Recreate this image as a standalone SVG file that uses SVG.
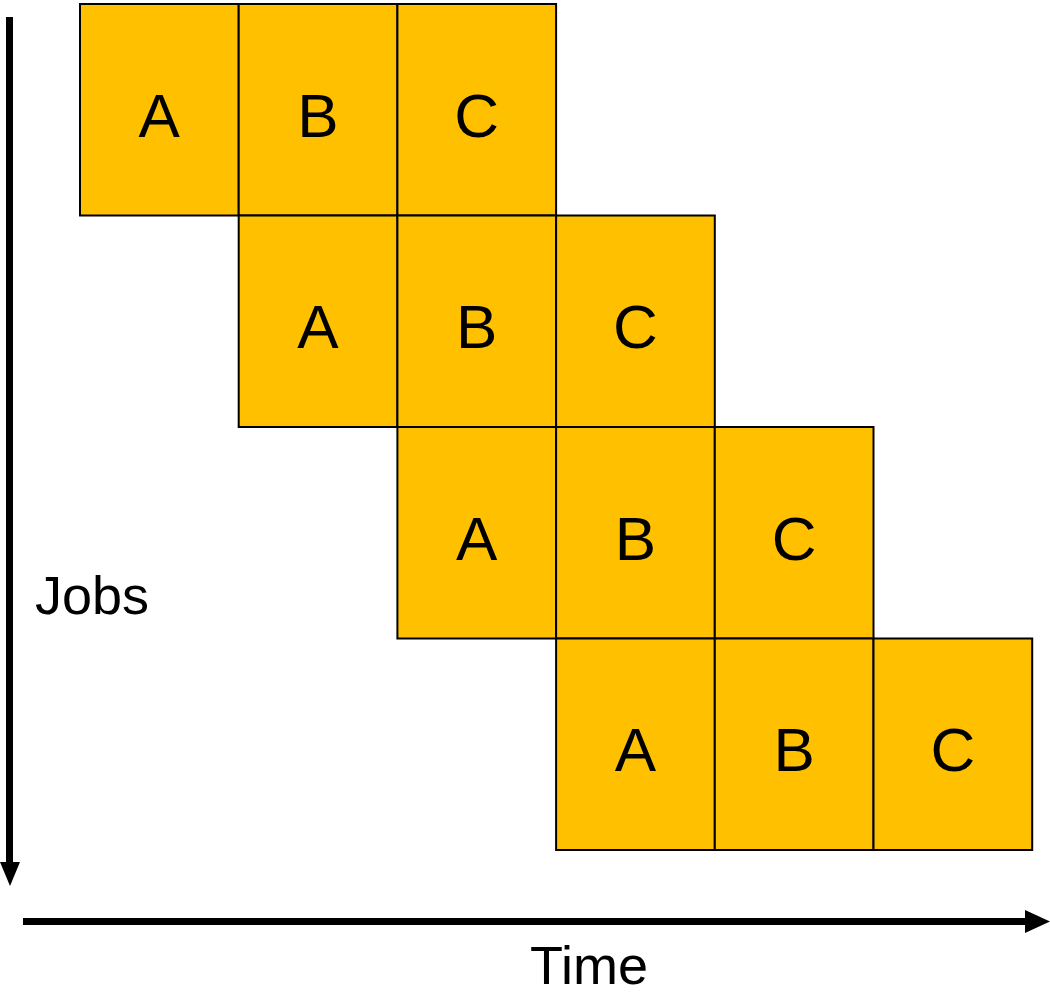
<svg xmlns="http://www.w3.org/2000/svg" width="1050" height="992" viewBox="0 0 1050 992">
<style>
.c{fill:#FFC000;stroke:#000;stroke-width:2}
.t{font-family:"Liberation Sans",Arial,sans-serif;font-size:62px;text-anchor:middle;fill:#000}
.l{font-family:"Liberation Sans",Arial,sans-serif;font-size:54px;fill:#000}
</style>
<rect width="1050" height="992" fill="#fff"/>
<g id="connectors">
<line x1="9.5" y1="17" x2="9.5" y2="866" stroke="#000" stroke-width="7"/>
<polygon points="0,862 20,862 10,886" fill="#000"/>
<line x1="23" y1="921.5" x2="1028" y2="921.5" stroke="#000" stroke-width="7"/>
<polygon points="1025,910 1025,933 1050,921.5" fill="#000"/>
</g>
<g id="row1">
<g id="r1a"><rect class="c" x="80" y="4" width="158.7" height="211.5"/><text class="t" x="159.3" y="137">A</text></g>
<g id="r1b"><rect class="c" x="238.7" y="4" width="158.7" height="211.5"/><text class="t" x="318" y="137">B</text></g>
<g id="r1c"><rect class="c" x="397.4" y="4" width="158.7" height="211.5"/><text class="t" x="476.7" y="137">C</text></g>
</g>
<g id="row2">
<g id="r2a"><rect class="c" x="238.7" y="215.5" width="158.7" height="211.5"/><text class="t" x="318" y="348">A</text></g>
<g id="r2b"><rect class="c" x="397.4" y="215.5" width="158.7" height="211.5"/><text class="t" x="476.7" y="348">B</text></g>
<g id="r2c"><rect class="c" x="556.1" y="215.5" width="158.7" height="211.5"/><text class="t" x="635.4" y="348">C</text></g>
</g>
<g id="row3">
<g id="r3a"><rect class="c" x="397.4" y="427" width="158.7" height="211.5"/><text class="t" x="476.7" y="560">A</text></g>
<g id="r3b"><rect class="c" x="556.1" y="427" width="158.7" height="211.5"/><text class="t" x="635.4" y="560">B</text></g>
<g id="r3c"><rect class="c" x="714.8" y="427" width="158.7" height="211.5"/><text class="t" x="794.1" y="560">C</text></g>
</g>
<g id="row4">
<g id="r4a"><rect class="c" x="556.1" y="638.5" width="158.7" height="211.5"/><text class="t" x="635.4" y="771">A</text></g>
<g id="r4b"><rect class="c" x="714.8" y="638.5" width="158.7" height="211.5"/><text class="t" x="794.1" y="771">B</text></g>
<g id="r4c"><rect class="c" x="873.5" y="638.5" width="158.7" height="211.5"/><text class="t" x="952.8" y="771">C</text></g>
</g>
<text class="l" x="35" y="614">Jobs</text>
<text class="l" x="530" y="984">Time</text>
</svg>
